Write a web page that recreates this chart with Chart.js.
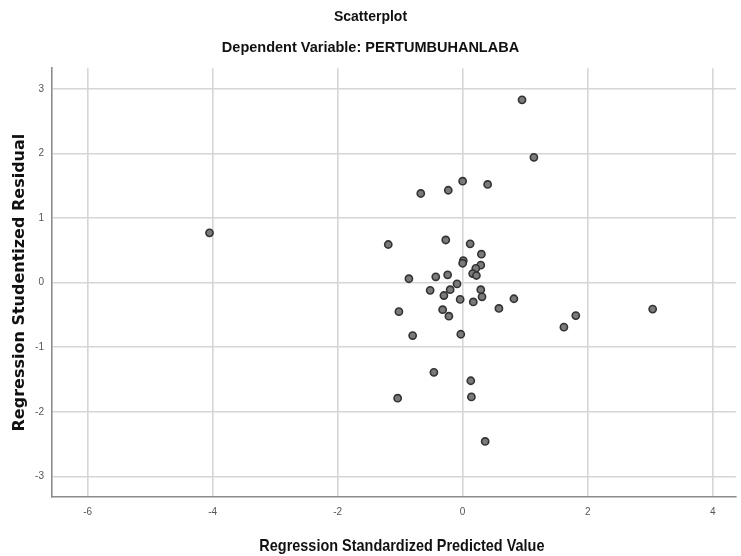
<!DOCTYPE html>
<html>
<head>
<meta charset="utf-8">
<script src="https://cdn.jsdelivr.net/npm/chart.js@4.4.1/dist/chart.umd.min.js"></script>
<style>
  html, body { margin: 0; padding: 0; background: #fff; }
  #wrap { width: 741px; height: 556px; }
</style>
</head>
<body>
<div id="wrap"><canvas id="scatterCanvas" width="741" height="556"></canvas></div>
<script>
// Regression Standardized Predicted Value (x) / Studentized Residual (y)
const predicted = [
  -4.05, 0.95, 1.14, 0.00, 0.40, -0.23, -0.67,
  -1.19, -0.27, 0.12, 0.30, 0.01, 0.00, 0.29, 0.21, 0.16, 0.22,
  -0.24, -0.43, -0.86, -0.09, -0.20, -0.52, 0.29, -0.30, 0.31,
  -0.04, 0.17, 0.82, 0.58, -1.02, -0.32, -0.22, 1.81, 1.62,
  -0.80, -0.03, 3.04, -0.46, 0.13, -1.04, 0.14, 0.36
];
const residual = [
  0.77, 2.83, 1.94, 1.57, 1.52, 1.43, 1.38,
  0.59, 0.66, 0.60, 0.44, 0.34, 0.30, 0.27, 0.22, 0.14, 0.11,
  0.12, 0.09, 0.06, -0.02, -0.11, -0.12, -0.11, -0.20, -0.22,
  -0.26, -0.30, -0.25, -0.40, -0.45, -0.42, -0.52, -0.51, -0.69,
  -0.82, -0.80, -0.41, -1.39, -1.52, -1.79, -1.77, -2.46
];
const xTicks = [-6, -4, -2, 0, 2, 4];
const yTicks = [-3, -2, -1, 0, 1, 2, 3];
const xTitle = 'Regression Standardized Predicted Value';
const yTitle = 'Regression Studentized Residual';

const points = predicted.map((x, i) => ({ x: x, y: residual[i] }));

const sans = '"Liberation Sans", Arial, sans-serif';
const ctx = document.getElementById('scatterCanvas').getContext('2d');

// x axis title, drawn a bit condensed like the SPSS output
const xTitlePlugin = {
  id: 'xTitlePlugin',
  afterDraw(chart) {
    const c = chart.ctx;
    const area = chart.chartArea;
    c.save();
    c.translate((area.left + area.right) / 2 + 8, 546);
    c.scale(0.85, 1);
    c.font = 'bold 17px ' + sans;
    c.fillStyle = '#111';
    c.textAlign = 'center';
    c.textBaseline = 'middle';
    c.fillText(xTitle, 0, 0);
    c.restore();
  }
};

new Chart(ctx, {
  type: 'scatter',
  data: {
    datasets: [{
      data: points,
      pointRadius: 3.6,
      pointHoverRadius: 3.6,
      pointBackgroundColor: '#7a7a7a',
      pointBorderColor: '#333',
      pointBorderWidth: 1.6
    }]
  },
  options: {
    responsive: false,
    animation: false,
    layout: { padding: 0 },
    plugins: {
      legend: { display: false },
      tooltip: { enabled: false },
      title: {
        display: true,
        text: 'Scatterplot',
        color: '#111',
        font: { family: sans, size: 14, weight: 'bold' },
        padding: { top: 9, bottom: 13 }
      },
      subtitle: {
        display: true,
        text: 'Dependent Variable: PERTUMBUHANLABA',
        color: '#111',
        font: { family: sans, size: 14.5, weight: 'bold' },
        padding: { top: 0, bottom: 12 }
      }
    },
    scales: {
      x: {
        type: 'linear',
        min: -6.57,
        max: 4.37,
        afterBuildTicks: s => { s.ticks = xTicks.map(v => ({ value: v })); },
        afterFit: s => { s.height = 59; },
        grid: { color: '#d6d6d6', lineWidth: 1.6, drawTicks: false },
        border: { display: true, color: '#8c8c8c', width: 1.6 },
        ticks: { color: '#555', padding: 9, font: { family: sans, size: 10 } },
        title: { display: false }
      },
      y: {
        type: 'linear',
        min: -3.32,
        max: 3.32,
        afterBuildTicks: s => { s.ticks = yTicks.map(v => ({ value: v })); },
        afterFit: s => { s.width = 52; },
        grid: { color: '#d6d6d6', lineWidth: 1.6, drawTicks: false },
        border: { display: true, color: '#8c8c8c', width: 1.6 },
        ticks: { color: '#555', padding: 8, font: { family: sans, size: 10 } },
        title: {
          display: true,
          text: yTitle,
          color: '#111',
          font: { family: '"DejaVu Sans", sans-serif', size: 16, weight: 'bold' },
          padding: { top: 10, bottom: 0 }
        }
      }
    }
  },
  plugins: [xTitlePlugin]
});
</script>
</body>
</html>
